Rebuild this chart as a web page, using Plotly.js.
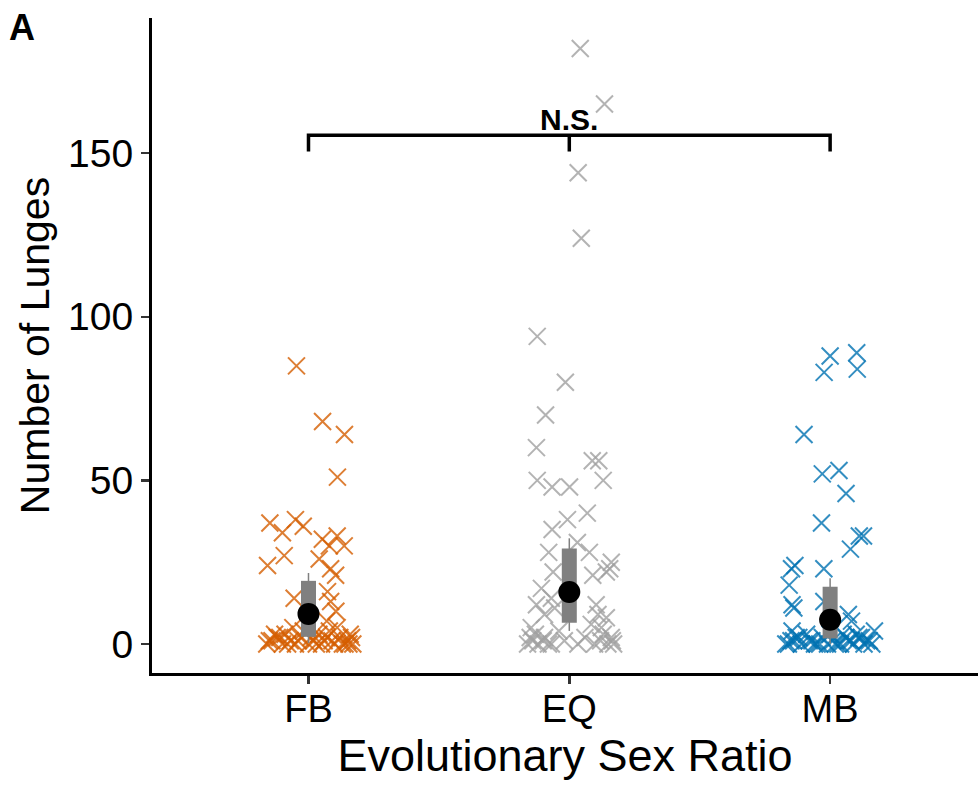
<!DOCTYPE html>
<html>
<head>
<meta charset="utf-8">
<script src="https://cdn.plot.ly/plotly-3.0.1.min.js"></script>
<style>html,body{margin:0;padding:0;background:#fff;}#chart{width:978px;height:787px;}</style>
</head>
<body>
<div id="chart"></div>
<script>
// Categories and tick labels
const categories = ["FB", "EQ", "MB"];
const categoryPos = [1, 2, 3];

// Observed number of lunges per group (values) and horizontal jitter (category units)
const fbValues = [85, 68, 64, 51, 38, 37, 36, 34, 32, 33, 30, 30, 27, 24, 26, 23, 21, 14, 16, 13, 10, 7,
  0, 1, 2, 0, 3, 1, 0, 2, 4, 0, 1, 3, 0, 2, 1, 0, 5, 2, 0, 1, 3, 0, 1, 2, 0, 1, 0, 4, 0, 2, 3, 1, 5, 0, 2];
const fbJitter = [-0.046, 0.054, 0.138, 0.111, -0.05, -0.148, -0.02, -0.10, 0.053, 0.11, 0.137, 0.08, -0.093, -0.157, 0.041, 0.085, 0.104, -0.055, 0.073, 0.085, 0.105, 0.07,
  -0.16, -0.14, -0.12, -0.10, -0.09, -0.07, -0.05, -0.03, -0.02, 0.0, 0.02, 0.04, 0.05, 0.07, 0.09, 0.10, 0.11, 0.12, 0.14, 0.15, 0.16, 0.17, -0.15, -0.11, -0.08, -0.04, 0.03, 0.08, 0.13, 0.165, -0.13, 0.06, -0.06, 0.155, 0.01];

const eqValues = [182, 165, 144, 124, 94, 80, 70, 60, 56, 56, 50, 48, 48, 50, 40, 38, 35, 31, 28, 28, 25, 22, 21, 22, 23,
  17, 14, 12, 12, 11, 9, 9, 8, 6, 5, 5, 2, 0, 1, 0, 2, 0, 0, 0,
  0, 1, 3, 1, 0, 4, 2, 1, 3, 0, 1, 2];
const eqJitter = [0.042, 0.135, 0.034, 0.046, -0.123, -0.015, -0.091, -0.126, 0.088, 0.113, -0.123, -0.066, 0.001, 0.13, 0.069, -0.007, -0.066, 0.031, -0.079, 0.077, 0.161, -0.062, 0.09, 0.142, 0.155,
  -0.107, -0.069, -0.126, 0.103, -0.056, -0.095, 0.11, 0.142, 0.084, -0.146, 0.123, -0.095, -0.12, -0.019, 0.033, 0.161, 0.097, 0.148, -0.069,
  -0.16, -0.14, -0.13, -0.10, -0.08, -0.04, 0.06, 0.12, 0.13, 0.17, 0.165, -0.15];

const mbValues = [88, 89, 83, 84, 64, 52, 53, 46, 37, 33, 33, 29, 24, 23, 23, 18, 12, 11, 13, 9, 7, 4,
  0, 1, 2, 0, 3, 1, 0, 2, 0, 1, 0, 3, 1, 0, 2, 0, 1, 4, 0, 2, 1, 0, 3, 0, 1, 2, 0, 1, 0, 2, 1, 3, 0];
const mbJitter = [0.0, 0.102, -0.023, 0.104, -0.1, -0.03, 0.034, 0.061, -0.033, 0.128, 0.112, 0.078, -0.135, -0.148, -0.024, -0.157, -0.146, -0.139, -0.024, 0.07, 0.082, -0.146,
  -0.17, -0.15, -0.13, -0.11, -0.09, -0.07, -0.05, -0.03, -0.01, 0.01, 0.03, 0.05, 0.07, 0.09, 0.11, 0.13, 0.15, 0.17, -0.16, -0.12, -0.08, -0.04, 0.0, 0.04, 0.08, 0.12, 0.16, 0.14, -0.06, 0.06, -0.14, 0.10, 0.02];

// Summary statistics per group: mean, inner interval, outer interval
const groupMeans = [9.2, 15.9, 7.4];
const innerLow = [2.2, 6.5, 1.7];
const innerHigh = [19.3, 29.2, 17.5];
const outerLow = [0.3, 4.0, 0.0];
const outerHigh = [21.7, 32.3, 20.1];

// Significance bracket
const bracketX = [1, 1, 3, 3];
const bracketY = [150.5, 155.5, 155.5, 150.5];
const bracketMidX = [2, 2];
const bracketMidY = [155.5, 150.5];
const bracketLabel = "N.S.";

const groupColors = ["rgba(213,94,0,0.8)", "rgba(160,160,160,0.8)", "rgba(0,114,178,0.8)"];

function pointTrace(pos, vals, jit, color) {
  return {
    type: "scatter", mode: "markers",
    x: vals.map((v, i) => pos + jit[i]), y: vals,
    marker: {symbol: "x-thin-open", size: 17, color: color, line: {color: color, width: 2}},
    hoverinfo: "skip", showlegend: false
  };
}

function segs(lo, hi) {
  const x = [], y = [];
  categoryPos.forEach((p, i) => { x.push(p, p, null); y.push(lo[i], hi[i], null); });
  return {x, y};
}

const outer = segs(outerLow, outerHigh);
const inner = segs(innerLow, innerHigh);

const traces = [
  pointTrace(categoryPos[0], fbValues, fbJitter, groupColors[0]),
  pointTrace(categoryPos[1], eqValues, eqJitter, groupColors[1]),
  pointTrace(categoryPos[2], mbValues, mbJitter, groupColors[2]),
  {type: "scatter", mode: "lines", x: outer.x, y: outer.y, line: {color: "#808080", width: 1.5}, hoverinfo: "skip", showlegend: false},
  {type: "scatter", mode: "lines", x: inner.x, y: inner.y, line: {color: "#808080", width: 15}, hoverinfo: "skip", showlegend: false},
  {type: "scatter", mode: "markers", x: categoryPos, y: groupMeans, marker: {color: "#000", size: 22}, hoverinfo: "skip", showlegend: false},
  {type: "scatter", mode: "lines", x: bracketX, y: bracketY, line: {color: "#000", width: 3.5}, hoverinfo: "skip", showlegend: false},
  {type: "scatter", mode: "lines", x: bracketMidX, y: bracketMidY, line: {color: "#000", width: 3.5}, hoverinfo: "skip", showlegend: false}
];

const fontFam = "Liberation Sans, Arial, Helvetica, sans-serif";

const layout = {
  width: 978, height: 787,
  margin: {l: 152, r: 0, t: 18, b: 114},
  paper_bgcolor: "#fff", plot_bgcolor: "#fff",
  font: {family: fontFam, color: "#000"},
  showlegend: false,
  xaxis: {
    range: [0.4, 3.567], tickmode: "array", tickvals: categoryPos, ticktext: categories,
    showgrid: false, zeroline: false, showline: true, linecolor: "#000", linewidth: 3,
    ticks: "outside", ticklen: 8, tickwidth: 2.5, tickcolor: "#333",
    ticklabelstandoff: -8,
    tickfont: {size: 38, family: fontFam, color: "#000"},
    title: {text: "Evolutionary Sex Ratio", font: {size: 45, family: fontFam, color: "#000"}, standoff: 2}
  },
  yaxis: {
    range: [-8.86, 191.3], tickvals: [0, 50, 100, 150],
    showgrid: false, zeroline: false, showline: true, linecolor: "#000", linewidth: 3,
    ticks: "outside", ticklen: 8, tickwidth: 2.5, tickcolor: "#333",
    tickfont: {size: 39, family: fontFam, color: "#000"},
    title: {text: "Number of Lunges", font: {size: 41, family: fontFam, color: "#000"}, standoff: 6}
  },
  annotations: [
    {text: bracketLabel, x: 2, y: 155.5, xref: "x", yref: "y", yanchor: "bottom", showarrow: false, yshift: -3,
     font: {size: 30, family: fontFam, color: "#000", weight: "bold"}},
    {text: "<b>A</b>", x: -0.175, y: 1.02, xref: "paper", yref: "paper", xanchor: "left", yanchor: "top", showarrow: false,
     font: {size: 36, family: fontFam, color: "#000"}}
  ]
};

Plotly.newPlot("chart", traces, layout, {staticPlot: true, displayModeBar: false});
</script>
</body>
</html>
